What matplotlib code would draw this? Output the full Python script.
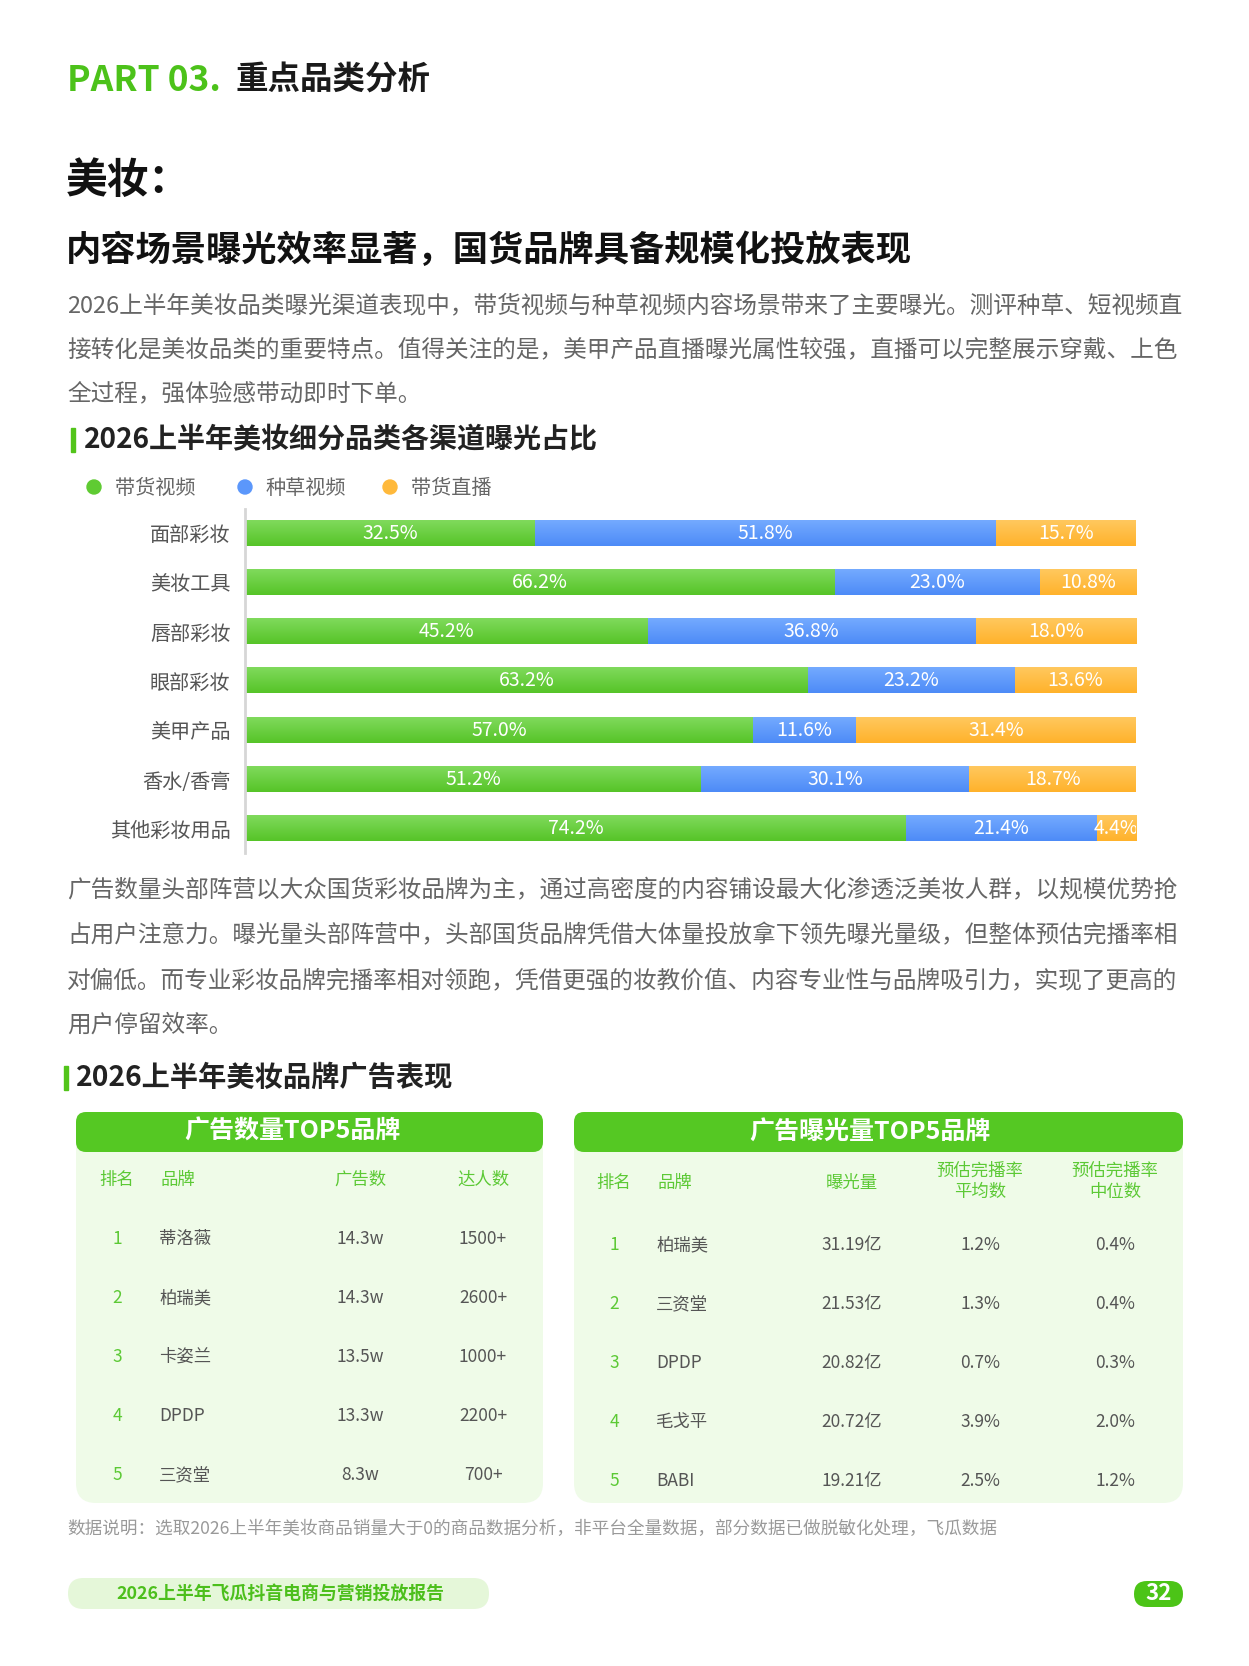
import numpy as np
import matplotlib
matplotlib.use("Agg")
import matplotlib.pyplot as plt
from matplotlib.patches import FancyBboxPatch, Rectangle, Circle
from matplotlib.colors import to_rgb

plt.rcParams['font.family'] = ['Noto Sans CJK SC', 'DejaVu Sans']

# ---------------- data ----------------
categories = ['面部彩妆', '美妆工具', '唇部彩妆', '眼部彩妆', '美甲产品', '香水/香膏', '其他彩妆用品']
series_names = ['带货视频', '种草视频', '带货直播']
video_sales = [32.5, 66.2, 45.2, 63.2, 57.0, 51.2, 74.2]
video_seed = [51.8, 23.0, 36.8, 23.2, 11.6, 30.1, 21.4]
live_sales = [15.7, 10.8, 18.0, 13.6, 31.4, 18.7, 4.4]

left_cols = ['排名', '品牌', '广告数', '达人数']
left_rank = ['1', '2', '3', '4', '5']
left_brand = ['蒂洛薇', '柏瑞美', '卡姿兰', 'DPDP', '三资堂']
left_ads = ['14.3w', '14.3w', '13.5w', '13.3w', '8.3w']
left_kol = ['1500+', '2600+', '1000+', '2200+', '700+']

right_cols = ['排名', '品牌', '曝光量', '预估完播率\n平均数', '预估完播率\n中位数']
right_rank = ['1', '2', '3', '4', '5']
right_brand = ['柏瑞美', '三资堂', 'DPDP', '毛戈平', 'BABI']
right_expo = ['31.19亿', '21.53亿', '20.82亿', '20.72亿', '19.21亿']
right_avg = ['1.2%', '1.3%', '0.7%', '3.9%', '2.5%']
right_med = ['0.4%', '0.4%', '0.3%', '2.0%', '1.2%']

# ---------------- figure ----------------
W, H = 1249, 1666
fig = plt.figure(figsize=(W / 100, H / 100), dpi=100)
fig.patch.set_facecolor('white')

ov = fig.add_axes([0, 0, 1, 1])
ov.set_xlim(0, W)
ov.set_ylim(H, 0)
ov.axis('off')
ov.set_zorder(0)

GREEN = '#52c41a'
TXT = '#666666'

def t(x, y, s, size, color='#333333', weight='normal', ha='left', va='center', **kw):
    ov.text(x, y, s, fontsize=size, color=color, fontweight=weight, ha=ha, va=va, **kw)

# header
t(67, 80, 'PART 03.', 25.5, '#4cc21a', 'heavy')
t(236, 80, '重点品类分析', 23.4, '#1a1a1a', 'bold')
t(66, 181, '美妆：', 30, '#111111', 'bold')
t(66, 250, '内容场景曝光效率显著，国货品牌具备规模化投放表现', 25.4, '#111111', 'bold')

para1 = ['2026上半年美妆品类曝光渠道表现中，带货视频与种草视频内容场景带来了主要曝光。测评种草、短视频直',
         '接转化是美妆品类的重要特点。值得关注的是，美甲产品直播曝光属性较强，直播可以完整展示穿戴、上色',
         '全过程，强体验感带动即时下单。']
for i, line in enumerate(para1):
    t(67, 306 + i * 44, line, 17, TXT)

# chart title
ov.add_patch(Rectangle((71, 428), 4, 24, color=GREEN))
t(84, 440, '2026上半年美妆细分品类各渠道曝光占比', 20.2, '#222222', 'bold')

# legend
leg_colors = ['#5fcb32', '#5b97fb', '#ffb93b']
leg_x = [94, 245, 390]
for c, x, name in zip(leg_colors, leg_x, series_names):
    ov.add_patch(Circle((x, 487), 7, color=c))
    t(x + 21, 488, name, 14.5, TXT)

# ---------------- bar chart ----------------
ax_l, ax_r, ax_t, ax_b = 245, 1136, 509, 853
ax = fig.add_axes([ax_l / W, 1 - ax_b / H, (ax_r - ax_l) / W, (ax_b - ax_t) / H])
ax.set_facecolor('none')
ax.set_zorder(1)

grads = [('#80da5c', '#56c428'), ('#74aaff', '#4d8bf7'), ('#ffc85e', '#ffb22b')]
series = [video_sales, video_seed, live_sales]
ypos = np.arange(len(categories))
bh = 0.51
left = np.zeros(len(categories))
for vals, (ct, cb) in zip(series, grads):
    vals = np.array(vals)
    bars = ax.barh(ypos, vals, left=left, height=bh, color=cb, linewidth=0)
    ctr = np.array(to_rgb(ct)); cbr = np.array(to_rgb(cb))
    g = np.linspace(0, 1, 64)[:, None, None]
    img = ctr[None, None, :] * (1 - g) + cbr[None, None, :] * g
    for p, v, l in zip(bars.patches, vals, left):
        x0, y0, w, h = p.get_x(), p.get_y(), p.get_width(), p.get_height()
        ax.imshow(img, extent=(x0, x0 + w, y0 + h, y0), aspect='auto', origin='upper',
                  interpolation='bilinear', zorder=2)
        ax.text(l + v / 2, y0 + h / 2, f'{v:.1f}%', ha='center', va='center', color='white',
                fontsize=14, zorder=3, clip_on=True)
    left = left + vals

ax.set_xlim(0, 100)
ax.set_ylim(len(categories) - 1 + 0.49, -0.487)
ax.set_yticks(ypos)
ax.set_yticklabels(categories, fontsize=14.5, color='#555555')
ax.tick_params(axis='y', length=0, pad=10.5)
ax.set_xticks([])
for s in ['top', 'right', 'bottom']:
    ax.spines[s].set_visible(False)
ax.spines['left'].set_color('#d6d6d6')
ax.spines['left'].set_linewidth(2)

# second paragraph
para2 = ['广告数量头部阵营以大众国货彩妆品牌为主，通过高密度的内容铺设最大化渗透泛美妆人群，以规模优势抢',
         '占用户注意力。曝光量头部阵营中，头部国货品牌凭借大体量投放拿下领先曝光量级，但整体预估完播率相',
         '对偏低。而专业彩妆品牌完播率相对领跑，凭借更强的妆教价值、内容专业性与品牌吸引力，实现了更高的',
         '用户停留效率。']
for i, line in enumerate(para2):
    t(67, 891 + i * 44.7, line, 17, TXT)

# section title
ov.add_patch(Rectangle((64, 1066), 4, 24, color=GREEN))
t(76, 1078, '2026上半年美妆品牌广告表现', 20.3, '#222222', 'bold')

# ---------------- tables ----------------
BODY = '#effbe8'
HEAD = '#55c823'
HTXT = '#5cc935'
CTXT = '#555555'

def table_box(x0, x1, title, tx):
    ov.add_patch(FancyBboxPatch((x0, 1112), x1 - x0, 1503 - 1112,
                                boxstyle='round,pad=0,rounding_size=20', fc=BODY, ec='none'))
    ov.add_patch(FancyBboxPatch((x0, 1112), x1 - x0, 40,
                                boxstyle='round,pad=0,rounding_size=10', fc=HEAD, ec='none'))
    t(tx, 1132, title, 18, 'white', 'bold', ha='center')

table_box(76, 543, '广告数量TOP5品牌', 293)
table_box(574, 1183, '广告曝光量TOP5品牌', 870)

# left table
lx = [(117, 'center'), (161, 'left'), (360, 'center'), (483, 'center')]
for (x, ha), name in zip(lx, left_cols):
    t(x, 1180, name, 12.5, HTXT, ha=ha)
left_rows_y = [1239, 1298, 1357, 1416, 1475]
for i, y in enumerate(left_rows_y):
    t(117, y, left_rank[i], 12.5, HTXT, ha='center')
    t(159, y, left_brand[i], 12.5, CTXT, ha='left')
    t(360, y, left_ads[i], 12.5, CTXT, ha='center')
    t(483, y, left_kol[i], 12.5, CTXT, ha='center')

# right table
rx = [(614, 'center'), (658, 'left'), (852, 'center'), (980, 'center'), (1115, 'center')]
for (x, ha), name in zip(rx, right_cols):
    parts = name.split('\n')
    if len(parts) == 1:
        t(x, 1183, name, 12.5, HTXT, ha=ha)
    else:
        t(x, 1171, parts[0], 12.5, HTXT, ha=ha)
        t(x, 1192, parts[1], 12.5, HTXT, ha=ha)
right_rows_y = [1245, 1304, 1363, 1422, 1481]
for i, y in enumerate(right_rows_y):
    t(614, y, right_rank[i], 12.5, HTXT, ha='center')
    t(656, y, right_brand[i], 12.5, CTXT, ha='left')
    t(852, y, right_expo[i], 12.5, CTXT, ha='center')
    t(980, y, right_avg[i], 12.5, CTXT, ha='center')
    t(1115, y, right_med[i], 12.5, CTXT, ha='center')

# note
t(67, 1529, '数据说明：选取2026上半年美妆商品销量大于0的商品数据分析，非平台全量数据，部分数据已做脱敏化处理，飞瓜数据',
  12.7, '#999999')

# footer
ov.add_patch(FancyBboxPatch((68, 1578), 421, 31, boxstyle='round,pad=0,rounding_size=15.5',
                            fc='#e5f7d9', ec='none'))
t(280, 1594, '2026上半年飞瓜抖音电商与营销投放报告', 12.9, '#4cbf1c', 'bold', ha='center')
ov.add_patch(FancyBboxPatch((1134, 1581), 49, 26, boxstyle='round,pad=0,rounding_size=13',
                            fc='#4cc417', ec='none'))
t(1158.5, 1593, '32', 16, 'white', 'heavy', ha='center')

fig.savefig('out.png', dpi=100, facecolor='white')
